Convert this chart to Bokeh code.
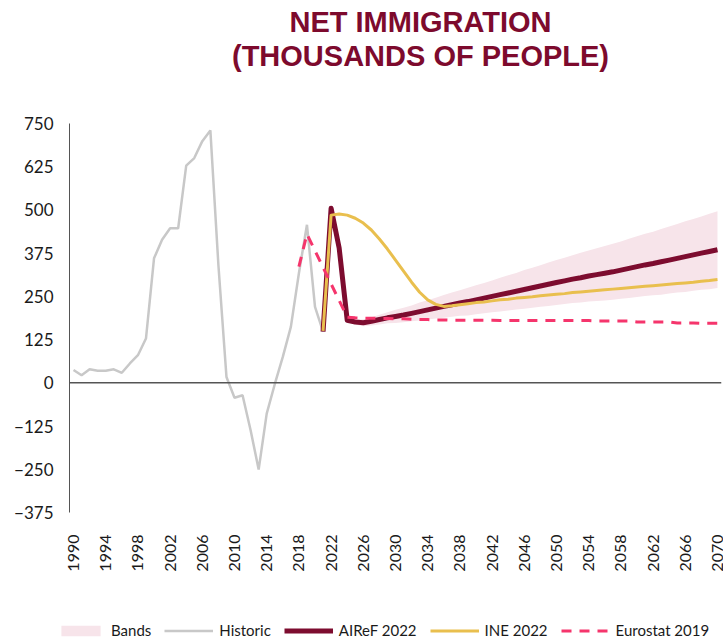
import math
from bokeh.plotting import figure
from bokeh.layouts import column
from bokeh.models import (Range1d, FixedTicker, Span, Legend, LegendItem, Label)
from bokeh.embed import file_html
from bokeh.resources import INLINE

# ---------------- data ----------------
hist_years = list(range(1990, 2022))
hist_vals = [37, 22, 39, 35, 35, 39, 29, 56, 80, 128,
             360, 414, 447, 447, 628, 650, 699, 730, 340, 17,
             -43, -36, -137, -251, -89, -4, 75, 162, 317, 457,
             220, 148]

proj_years = list(range(2021, 2071))
airef_vals = [148, 505, 390, 181, 176, 174, 178, 183, 188, 192,
              196, 201, 206, 211, 216, 221, 226, 231, 235, 240,
              245, 250, 255, 260, 265, 270, 275, 280, 285, 290,
              295, 300, 304, 309, 313, 317, 321, 326, 331, 336,
              341, 345, 350, 355, 360, 365, 370, 375, 380, 385]
ine_vals = [150, 485, 488, 485, 476, 462, 442, 416, 387, 355,
            323, 291, 262, 240, 227, 221, 223, 226, 229, 232,
            234, 237, 240, 242, 245, 247, 249, 252, 254, 256,
            258, 261, 263, 265, 267, 269, 271, 273, 275, 277,
            279, 281, 283, 285, 287, 289, 291, 294, 296, 299]

euro_years = list(range(2018, 2071))
euro_vals = [336, 430, 382, 334, 286, 238, 190, 188, 187, 187,
             186, 186, 185, 185, 184, 183, 183, 182, 182, 181,
             181, 181, 181, 181, 181, 180, 180, 180, 180, 180,
             180, 180, 180, 180, 180, 180, 180, 179, 179, 179,
             179, 179, 176, 176, 176, 176, 176, 173, 173, 173,
             172, 172, 172]

band_years = list(range(2024, 2071))
band_upper = [186, 183, 184, 190, 197, 204, 211, 217, 224, 232,
              239, 246, 254, 261, 268, 275, 282, 289, 296, 304,
              311, 318, 326, 333, 340, 348, 355, 362, 369, 376,
              383, 389, 396, 402, 409, 417, 424, 431, 437, 445,
              452, 459, 467, 474, 481, 489, 496]
band_lower = [176, 169, 164, 166, 169, 172, 173, 175, 178, 180,
              183, 186, 188, 191, 194, 195, 198, 201, 204, 206,
              209, 212, 214, 217, 220, 222, 225, 228, 231, 232,
              235, 237, 238, 240, 243, 245, 248, 251, 253, 255,
              258, 261, 263, 266, 269, 271, 274]

x_ticks = list(range(1990, 2071, 4))
y_ticks = [-375, -250, -125, 0, 125, 250, 375, 500, 625, 750]

title_lines = ["NET IMMIGRATION", "(THOUSANDS OF PEOPLE)"]
series_names = ["Bands", "Historic", "AIReF 2022", "INE 2022", "Eurostat 2019"]

# ---------------- styles ----------------
FONT = "Lato"
C_BAND = "#F7E4EA"
C_HIST = "#C8C8C8"
C_AIREF = "#7D0C2F"
C_INE = "#E9BF4E"
C_EURO = "#F5356C"
C_TITLE = "#7D0A2D"
W = 723

def strip(h):
    f = figure(width=W, height=h, x_range=Range1d(0, 1), y_range=Range1d(0, 1),
               output_backend="svg", toolbar_location=None,
               x_axis_type=None, y_axis_type=None, min_border=0,
               min_border_left=0, min_border_right=0,
               min_border_top=0, min_border_bottom=0, frame_align=False)
    f.outline_line_color = None
    f.xgrid.visible = False
    f.ygrid.visible = False
    return f

# ---------------- title strip ----------------
pt = strip(80)
for txt, yy in zip(title_lines, [59, 25]):
    pt.add_layout(Label(x=420, y=yy, x_units="screen", y_units="screen",
                        text=txt, text_align="center", text_baseline="alphabetic",
                        text_font="Liberation Sans", text_font_style="bold",
                        text_font_size="29px", text_color=C_TITLE))

# ---------------- main chart ----------------
p = figure(width=W, height=532,
           x_range=Range1d(1989.5, 2070.5), y_range=Range1d(-375, 750),
           output_backend="svg", toolbar_location=None,
           min_border_left=69, min_border_right=2,
           min_border_top=43, min_border_bottom=100, frame_align=False)
p.outline_line_color = None
p.xgrid.visible = False
p.ygrid.visible = False

xa = p.xaxis[0]
xa.ticker = FixedTicker(ticks=x_ticks)
xa.axis_line_color = None
xa.major_tick_line_color = None
xa.minor_tick_line_color = None
xa.major_tick_out = 0
xa.major_label_orientation = math.pi / 2
xa.major_label_standoff = 22
xa.major_label_text_font = FONT
xa.major_label_text_font_size = "16px"
xa.major_label_text_color = "#1a1a1a"

ya = p.yaxis[0]
ya.ticker = FixedTicker(ticks=y_ticks)
ya.axis_line_color = "#555555"
ya.axis_line_width = 1
ya.major_tick_line_color = None
ya.minor_tick_line_color = None
ya.major_tick_out = 0
ya.major_label_standoff = 16
ya.major_label_text_font = FONT
ya.major_label_text_font_size = "17px"
ya.major_label_text_color = "#1a1a1a"

p.add_layout(Span(location=0, dimension="width", line_color="#555555", line_width=1.5))

p.varea(x=band_years, y1=band_lower, y2=band_upper, fill_color=C_BAND, fill_alpha=1.0)
p.line(hist_years, hist_vals, line_color=C_HIST, line_width=2.5)
p.line(proj_years, airef_vals, line_color=C_AIREF, line_width=5, line_join="round")
p.line(proj_years, ine_vals, line_color=C_INE, line_width=3, line_join="round")
p.line(euro_years, euro_vals, line_color=C_EURO, line_width=3, line_dash="10 8")

# ---------------- legend strip ----------------
# legend swatches reuse the series (their data lie outside this strip's ranges)
pl = strip(29)
lr_band = pl.varea(x=band_years, y1=band_lower, y2=band_upper,
                   fill_color=C_BAND, fill_alpha=1.0)
lr_hist = pl.line(hist_years, hist_vals, line_color=C_HIST, line_width=2.5)
lr_airef = pl.line(proj_years, airef_vals, line_color=C_AIREF, line_width=5)
lr_ine = pl.line(proj_years, ine_vals, line_color=C_INE, line_width=3)
lr_euro = pl.line(euro_years, euro_vals, line_color=C_EURO, line_width=3,
                  line_dash="10 8")

legend = Legend(items=[
    LegendItem(label=n, renderers=[r]) for n, r in
    zip(series_names, [lr_band, lr_hist, lr_airef, lr_ine, lr_euro])
], location=(56, 2), orientation="horizontal")
legend.border_line_color = None
legend.background_fill_alpha = 0
legend.margin = 0
legend.padding = 2
legend.spacing = 13
legend.glyph_width = 49
legend.glyph_height = 13
legend.label_standoff = 6
legend.label_text_font = FONT
legend.label_text_font_size = "15px"
legend.label_text_color = "#1a1a1a"
pl.add_layout(legend)

layout = column(pt, p, pl, spacing=0)
open("out.html", "w").write(file_html(layout, INLINE))
